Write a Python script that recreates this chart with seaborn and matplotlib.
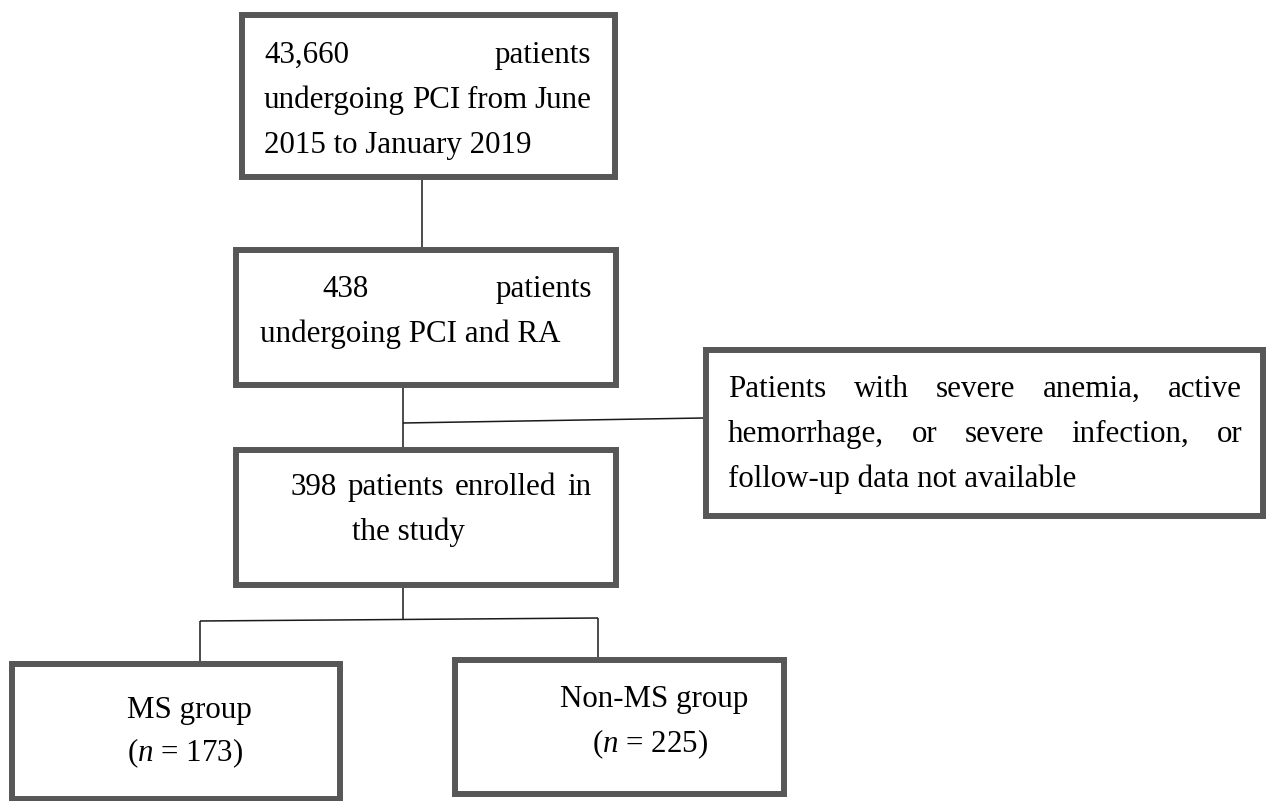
import matplotlib
matplotlib.use('Agg')
import matplotlib.pyplot as plt
from matplotlib.patches import Rectangle
import seaborn as sns

# ==================== data ====================
N_SCREENED = 43660
N_RA = 438
N_ENROLLED = 398
PERIOD = ['June', '2015', 'January 2019']
GROUPS = ['MS group', 'Non-MS group']
GROUP_N = [173, 225]
EXCLUSION = ['Patients with severe anemia, active',
             'hemorrhage, or severe infection, or',
             'follow-up data not available']

# ==================== style ====================
sns.set_theme(style='white')
plt.rcParams['font.family'] = ['Liberation Serif', 'DejaVu Serif']
plt.rcParams['mathtext.fontset'] = 'custom'
plt.rcParams['mathtext.rm'] = 'Liberation Serif'
plt.rcParams['mathtext.it'] = 'Liberation Serif:italic'

W, H = 1266, 801
FS = 22.35
BOX_C = '#575757'
BOX_LW = 4.3
LINE_C = '#1a1a1a'
TXT = '#000000'

fig = plt.figure(figsize=(W / 100, H / 100), dpi=100)
ax = fig.add_axes([0, 0, 1, 1])
ax.set_xlim(0, W)
ax.set_ylim(H, 0)
ax.axis('off')
renderer = fig.canvas.get_renderer()


def box(x0, y0, x1, y1):
    # outer pixel edges -> rectangle on the stroke centre
    d = 3
    ax.add_patch(Rectangle((x0 + d, y0 + d), x1 - x0 - 2 * d, y1 - y0 - 2 * d,
                           fill=False, ec=BOX_C, lw=BOX_LW, joinstyle='miter'))


def line(xs, ys):
    ax.plot(xs, ys, color=LINE_C, lw=1.1, solid_capstyle='butt')


def text(x, y, s, **kw):
    return ax.text(x, y, s, fontsize=kw.pop('fs', FS), color=TXT,
                   va='baseline', ha=kw.pop('ha', 'left'), **kw)


def justify(words, x0, x1, y):
    arts = [text(0, y, w) for w in words]
    widths = [a.get_window_extent(renderer).width for a in arts]
    gap = (x1 - x0 - sum(widths)) / max(len(words) - 1, 1)
    x = x0
    for a, w in zip(arts, widths):
        a.set_x(x)
        x += w + gap


# ==================== boxes ====================
box(239, 12, 618, 180)
box(233, 247, 619, 388)
box(233, 447, 619, 588)
box(703, 347, 1266, 519)
box(9, 661, 343, 802)
box(452, 657, 787, 797)

# ==================== connectors ====================
line([422, 422], [180, 247])
line([403, 403], [388, 447])
line([403, 703], [423, 418])
line([403, 403], [588, 620])
line([200, 598], [621, 618])
line([200, 200], [621, 661])
line([598, 598], [618, 657])

# ==================== texts ====================
justify([f'{N_SCREENED:,}', 'patients'], 264, 591, 63)
justify(['undergoing', 'PCI', 'from', PERIOD[0]], 264, 591, 108)
text(264, 153, f'{PERIOD[1]} to {PERIOD[2]}')

justify([f'{N_RA}', 'patients'], 322, 592, 297)
text(260, 342, 'undergoing PCI and RA')

justify([f'{N_ENROLLED}', 'patients', 'enrolled', 'in'], 290, 591, 495)
text(352, 540, 'the study')

justify(EXCLUSION[0].split(), 728, 1242, 397)
justify(EXCLUSION[1].split(), 728, 1242, 442)
text(728, 487, EXCLUSION[2])

text(127, 718, GROUPS[0])
text(127, 761, f'($\\mathit{{n}}$ = {GROUP_N[0]})')
text(560, 707, GROUPS[1])
text(592, 752, f'($\\mathit{{n}}$ = {GROUP_N[1]})')

fig.savefig('out.png', dpi=100, facecolor='white')
